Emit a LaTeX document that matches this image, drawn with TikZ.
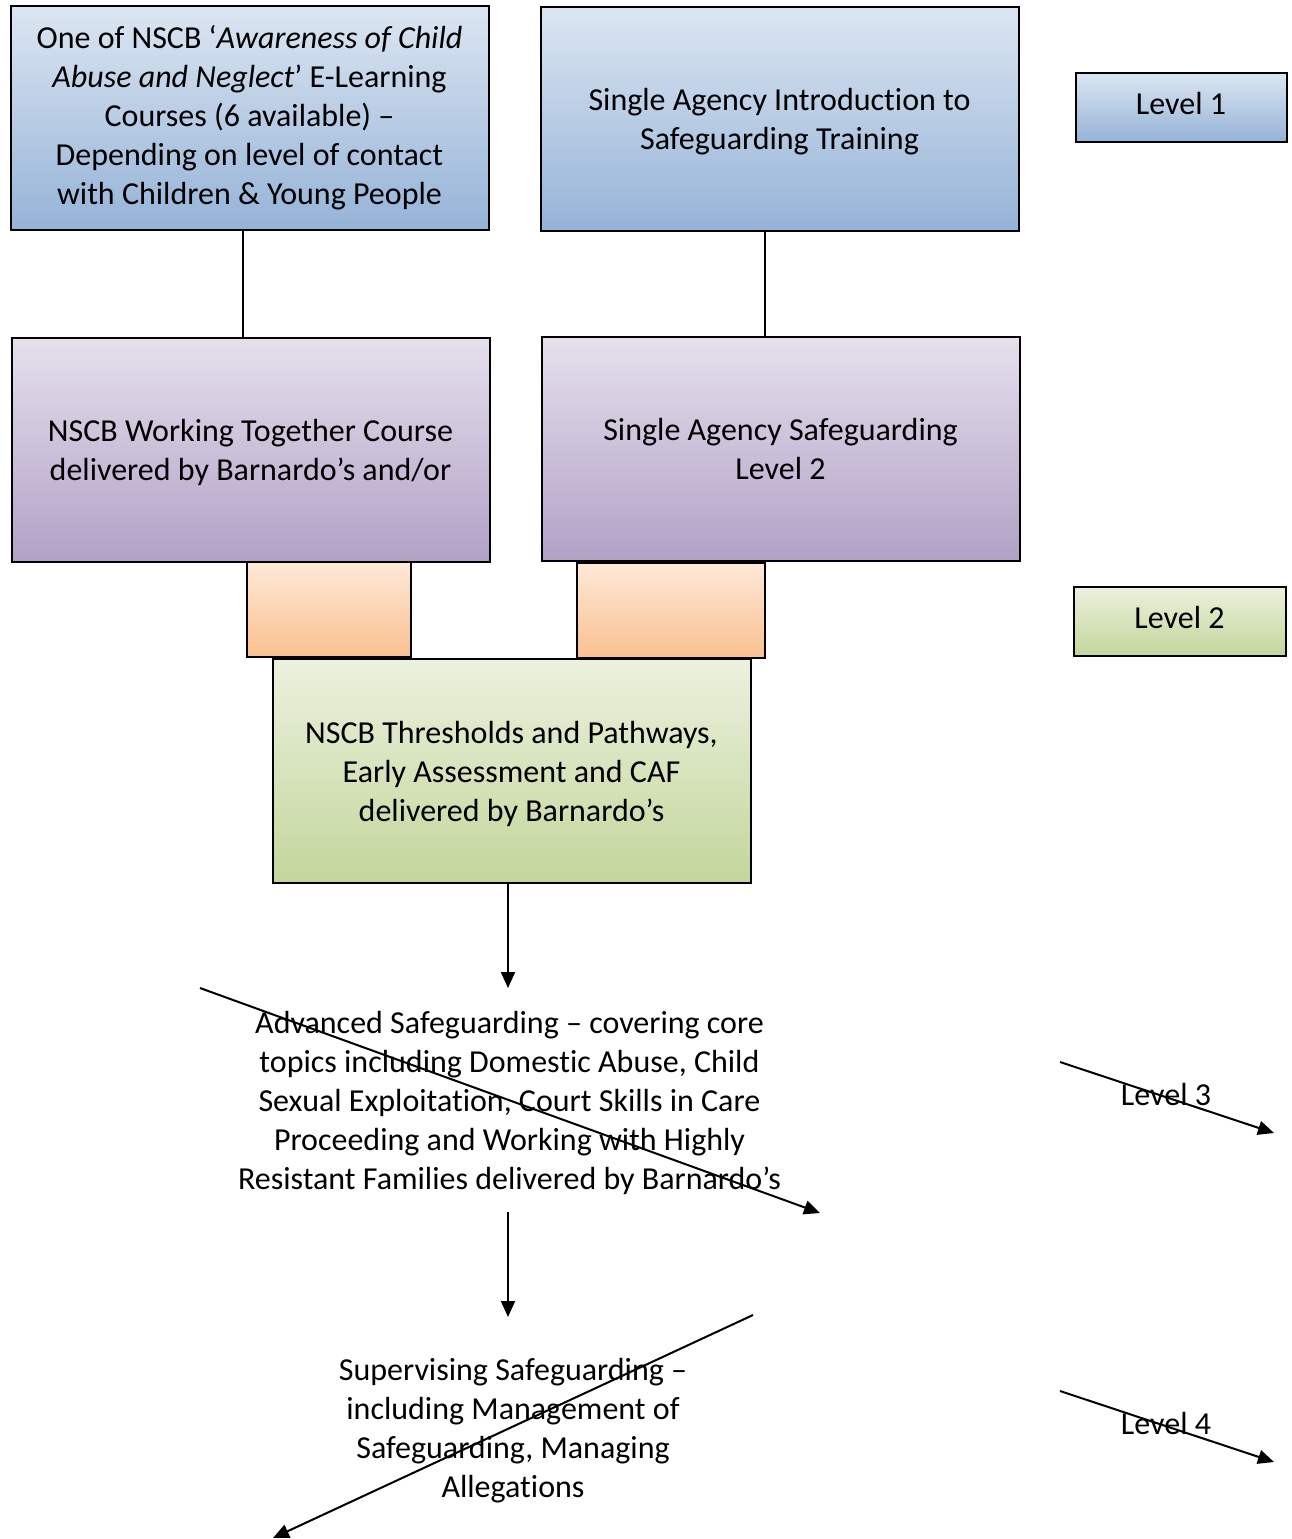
\documentclass[tikz,border=0pt]{standalone}
\usepackage{fontspec}
\setmainfont{Carlito}[Ligatures={NoCommon}]
\usetikzlibrary{arrows.meta}
\definecolor{blueT}{HTML}{DCE6F2}
\definecolor{blueB}{HTML}{95B3D7}
\definecolor{purpT}{HTML}{E5E0EC}
\definecolor{purpB}{HTML}{B2A1C7}
\definecolor{orT}{HTML}{FDE9D9}
\definecolor{orB}{HTML}{FAC090}
\definecolor{grT}{HTML}{EBF1DE}
\definecolor{grB}{HTML}{C3D69B}
\newcommand{\topstrut}{\rule{0pt}{29pt}}
\tikzset{
  box/.style={draw=black, line width=2pt, align=center, inner sep=0pt,
    font=\fontsize{32}{39}\selectfont},
  bluebox/.style={box, top color=blueT, bottom color=blueB},
  purpbox/.style={box, top color=purpT, bottom color=purpB},
  orbox/.style={box, top color=orT, bottom color=orB},
  grbox/.style={box, top color=grT, bottom color=grB},
  bigbox/.style={minimum width=478pt, minimum height=224pt},
  lvbox/.style={minimum height=69pt, text height=23pt, text depth=9pt},
  plain/.style={align=center, inner sep=0pt, font=\fontsize{32}{39}\selectfont},
  conn/.style={line width=2pt},
  arr/.style={line width=2pt, -{Triangle[length=16pt,width=14pt]}}
}
\begin{document}
\begin{tikzpicture}[x=1pt,y=-1pt]
\useasboundingbox (0,0) rectangle (1292,1539);
% row 1
\node[bluebox, bigbox] (a) at (249.5,117.5) {One of NSCB ‘\textit{Awareness of Child}\\\textit{Abuse and Neglect}’ E-Learning\\Courses (6 available) –\\Depending on level of contact\\with Children \& Young People};
\node[bluebox, bigbox] (b) at (779.5,118.5) {\topstrut Single Agency Introduction to\\Safeguarding Training};
\node[bluebox, lvbox, minimum width=211pt] (lv1) at (1181,107) {Level 1};
% row 2
\node[purpbox, bigbox] (c) at (250.5,449.5) {\topstrut NSCB Working Together Course\\delivered by Barnardo’s and/or};
\node[purpbox, bigbox] (d) at (780.5,448.5) {Single Agency Safeguarding\\Level 2};
\draw[conn] ([xshift=-6.5pt]a.south) -- ([xshift=-6.5pt]a.south |- c.north);
\draw[conn] ([xshift=-14.5pt]b.south) -- ([xshift=-14.5pt]b.south |- d.north);
% orange boxes
\node[orbox, minimum width=164pt, minimum height=95pt] (o1) at (328.5,609) {};
\node[orbox, minimum width=188pt, minimum height=95pt] (o2) at (670.5,610) {};
% green box
\node[grbox, bigbox] (e) at (511.5,770.5) {\topstrut NSCB Thresholds and Pathways,\\Early Assessment and CAF\\delivered by Barnardo’s};
\node[grbox, lvbox, minimum width=212pt] (lv2) at (1179.5,621) {Level 2};
% level 3
\node[plain] (adv) at (509.5,1103) {Advanced Safeguarding – covering core\\topics including Domestic Abuse, Child\\Sexual Exploitation, Court Skills in Care\\Proceeding and Working with Highly\\Resistant Families delivered by Barnardo’s};
\node[plain] (lv3) at (1166,1094) {Level 3};
% level 4
\node[plain] (sup) at (513,1431) {Supervising Safeguarding –\\including Management of\\Safeguarding, Managing\\Allegations};
\node[plain] (lv4) at (1166,1423) {Level 4};
% connectors
\coordinate (t1) at (508,988);
\draw[arr] ([xshift=-3.5pt]e.south) -- (t1);
\coordinate (s2) at (508,1212);
\coordinate (t2) at (508,1317);
\draw[arr] (s2) -- (t2);
% stray diagonal arrows
\coordinate (d1s) at (200,988);
\coordinate (d1e) at (820,1213);
\draw[arr] (d1s) -- (d1e);
\coordinate (d2s) at (1060,1062);
\coordinate (d2e) at (1274,1133);
\draw[arr] (d2s) -- (d2e);
\coordinate (d3s) at (753,1315);
\coordinate (d3e) at (273,1538);
\draw[arr] (d3s) -- (d3e);
\coordinate (d4s) at (1060,1391);
\coordinate (d4e) at (1274,1462);
\draw[arr] (d4s) -- (d4e);
\end{tikzpicture}
\end{document}
